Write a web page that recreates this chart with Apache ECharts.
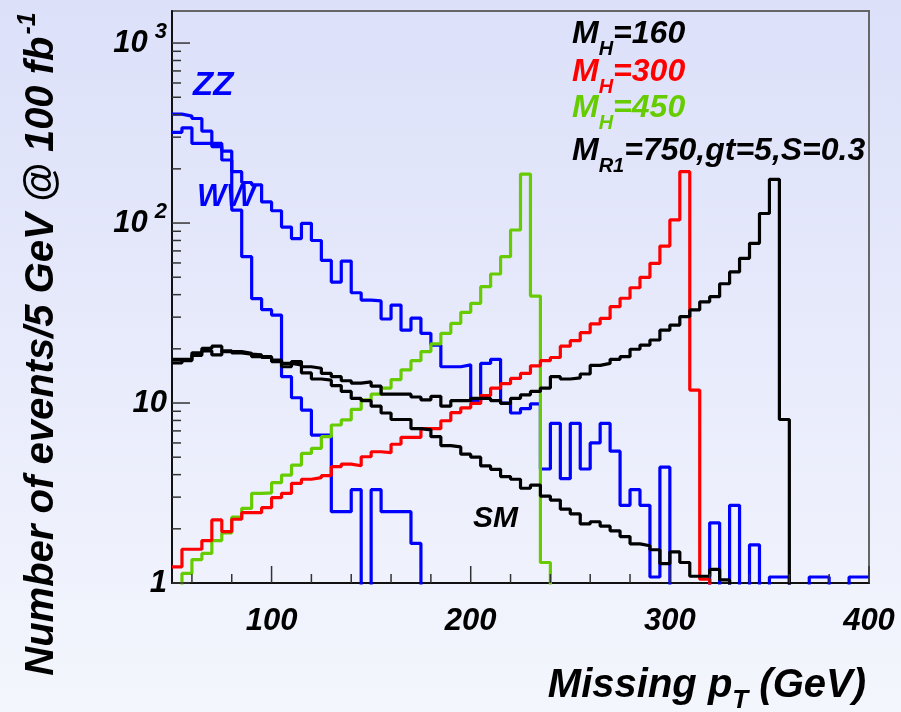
<!DOCTYPE html>
<html>
<head>
<meta charset="utf-8">
<script src="https://cdn.jsdelivr.net/npm/echarts@6/dist/echarts.min.js"></script>
<style>
  html, body { margin: 0; padding: 0; }
  #chart { width: 901px; height: 712px; }
</style>
</head>
<body>
<div id="chart"></div>
<script>
// histograms: 5 GeV bins, first bin starts at 50 GeV, 0 = empty bin
const binStart = 50;
const binWidth = 5;

const zz = [403, 393, 381, 324, 277, 251, 193, 168, 163, 131,
  117, 95, 82, 99.6, 80, 62, 47, 61.5, 41, 37.3,
  36.9, 29.3, 35, 25.4, 29.6, 24.4, 21, 15.9, 15.9, 16.3,
  10.2, 16.6, 17.5, 10, 8.8, 9.3, 9.9, 4.3, 7.7, 3.8,
  7.7, 4.3, 6.0, 7.7, 5.4, 2.7, 3.3, 2.7, 1.08, 4.4,
  0, 0, 0, 0, 2.16, 0, 2.7, 0, 1.63, 0,
  1.08, 1.08, 0, 0, 1.08, 1.08, 0, 0, 1.08, 1.08];

const ww = [319, 338, 277, 277, 266, 224, 118, 65, 38, 33,
  30.8, 14, 10.7, 9.14, 6.64, 6.64, 2.49, 2.49, 3.3, 0,
  3.3, 2.49, 2.49, 2.49, 1.66, 0, 0, 0, 0, 0,
  0, 0, 0, 0, 0, 0, 0, 0, 0, 0,
  0, 0, 0, 0, 0, 0, 0, 0, 0, 0,
  0, 0, 0, 0, 0, 0, 0, 0, 0, 0,
  0, 0, 0, 0, 0, 0, 0, 0, 0, 0];

const sm = [16.7, 17.2, 19.0, 19.5, 18.5, 19.5, 19.0, 18.7, 18.5, 17.9,
  17.3, 16.6, 16.3, 14.7, 13.6, 13.4, 12.5, 11.6, 10.6, 10.3,
  9.6, 8.8, 8.1, 8.1, 7.2, 7.1, 6.5, 5.8, 5.7, 5.2,
  5.0, 4.47, 4.28, 3.9, 3.77, 3.36, 3.5, 3.04, 2.89, 2.57,
  2.42, 2.13, 2.19, 2.07, 1.95, 1.81, 1.65, 1.61, 1.53, 1.28,
  1.49, 1.30, 1.09, 1.09, 1.19, 1.04, 0, 0, 0, 0,
  0, 0, 0, 0, 0, 0, 0, 0, 0, 0];

const mR1 = [17.5, 17.5, 18.4, 20.1, 20.7, 19.3, 19.3, 18.9, 18.1, 18.1,
  17.0, 15.9, 17.0, 15.9, 15.6, 14.6, 14.0, 13.3, 12.9, 13.1,
  12.4, 11.2, 11.2, 11.2, 10.8, 10.4, 10.9, 9.6, 10.3, 10.3,
  10.6, 10.6, 10.3, 9.95, 10.6, 11.1, 11.6, 12.1, 14.0, 13.6,
  13.8, 14.5, 16.2, 16.6, 17.5, 18.1, 19.9, 21.0, 22.4, 25.4,
  27.1, 30.2, 32.9, 36.5, 39.0, 46.0, 53.5, 63.7, 77.1, 113,
  175, 8.1, 0, 0, 0, 0, 0, 0, 0, 0];

const mH300 = [1.23, 1.54, 1.54, 1.72, 2.24, 1.93, 2.26, 2.46, 2.46, 2.62,
  2.98, 3.15, 3.58, 3.77, 3.85, 3.95, 4.43, 4.58, 4.48, 5.03,
  5.36, 5.3, 5.9, 6.45, 6.45, 7.2, 7.2, 7.97, 8.85, 9.4,
  9.95, 11.0, 12.1, 12.8, 13.7, 14.6, 16.1, 17.2, 17.9, 20.7,
  22.2, 24.6, 27.5, 29.5, 34.3, 38.2, 43.7, 49.9, 59.7, 74.5,
  104, 193, 11.8, 1.05, 0, 0, 0, 0, 0, 0,
  0, 0, 0, 0, 0, 0, 0, 0, 0, 0];

const mH450 = [0, 1.13, 1.35, 1.46, 1.72, 1.90, 2.32, 2.60, 3.15, 3.17,
  3.61, 3.98, 4.52, 5.25, 5.6, 6.5, 7.55, 8.05, 9.23, 10.4,
  11.2, 12.1, 13.5, 15.3, 17.2, 19.3, 21.3, 24.4, 27.7, 31.9,
  35.8, 44.3, 52.1, 65, 91.5, 187, 39.3, 1.30, 0, 0,
  0, 0, 0, 0, 0, 0, 0, 0, 0, 0,
  0, 0, 0, 0, 0, 0, 0, 0, 0, 0,
  0, 0, 0, 0, 0, 0, 0, 0, 0, 0];

// axis ticks
const xTicks = [60, 80, 100, 120, 140, 160, 180, 200, 220, 240, 260, 280, 300,
  320, 340, 360, 380, 400];
const yTicks = [1, 2, 3, 4, 5, 6, 7, 8, 9, 10, 20, 30, 40, 50, 60, 70, 80, 90,
  100, 200, 300, 400, 500, 600, 700, 800, 900, 1000];

const xMin = 50, xMax = 400, yMin = 1, yMax = 1507;
const font = '"Liberation Sans", Arial, sans-serif';
const emptyLevel = 0.3; // drawn below the axis, clipped away

function histPoints(values) {
  const pts = values.map((v, i) => [binStart + i * binWidth, v > 0 ? v : emptyLevel]);
  const last = pts[pts.length - 1][1];
  pts.push([binStart + values.length * binWidth, last]);
  return pts;
}

function histSeries(values, color) {
  return {
    type: 'line',
    step: 'end',
    data: histPoints(values),
    showSymbol: false,
    symbol: 'none',
    clip: true,
    silent: true,
    lineStyle: { width: 3.2, color: color },
    z: 3
  };
}

function txt(size, color, extra) {
  return Object.assign({
    fontSize: size, fontFamily: font, fontWeight: 'bold', fontStyle: 'italic',
    fill: color, color: color
  }, extra || {});
}

function isMajor(v) {
  return Math.abs(Math.log10(v) - Math.round(Math.log10(v))) < 1e-6;
}

function legendText(y, main, sub, rest, color) {
  return {
    type: 'text', x: 572, y: y, z: 10,
    style: {
      text: '{m|' + main + '}{s|' + sub + '}{m|' + rest + '}', verticalAlign: 'middle',
      rich: { m: txt(32, color), s: txt(20, color, { padding: [30, 0, 0, 0] }) }
    }
  };
}

const chart = echarts.init(document.getElementById('chart'), null, { renderer: 'canvas' });

const option = {
  animation: false,
  backgroundColor: {
    type: 'linear', x: 0, y: 0, x2: 0, y2: 1,
    colorStops: [{ offset: 0, color: '#dce0f9' }, { offset: 1, color: '#f4f6fd' }]
  },
  grid: {
    left: 172, top: 11, right: 32, bottom: 129,
    show: true, borderColor: '#666', borderWidth: 2, backgroundColor: 'transparent'
  },
  xAxis: {
    type: 'value',
    min: xMin, max: xMax, interval: 10,
    axisLine: { lineStyle: { color: '#111', width: 2 } },
    axisTick: { show: false },
    splitLine: { show: false },
    axisLabel: {
      margin: 23,
      fontSize: 31, fontFamily: font, fontWeight: 'bold', fontStyle: 'italic', color: '#000',
      formatter: v => (v % 100 === 0 ? String(v) : '')
    }
  },
  yAxis: {
    type: 'log',
    logBase: 10,
    min: yMin, max: yMax,
    axisLine: { lineStyle: { color: '#111', width: 2 } },
    axisTick: { show: false },
    splitLine: { show: false },
    axisLabel: {
      margin: 5,
      showMaxLabel: false,
      formatter: v => {
        const e = Math.round(Math.log10(v));
        if (e === 0) return '{n|1}';
        if (e === 1) return '{n|10}';
        return '{n|10}{e|' + e + '}';
      },
      rich: {
        n: txt(31, '#000'),
        e: txt(22, '#000', { padding: [0, 0, 22, 7] })
      }
    }
  },
  series: [
    histSeries(zz, '#0000ff'),
    histSeries(ww, '#0000ff'),
    histSeries(mH450, '#66cc00'),
    histSeries(mH300, '#ff0000'),
    histSeries(sm, '#000000'),
    histSeries(mR1, '#000000'),
    {
      type: 'custom',
      silent: true,
      clip: false,
      z: 5,
      data: xTicks.map(v => [v, yMin]),
      renderItem: (params, api) => {
        const v = api.value(0);
        const p = api.coord([v, yMin]);
        const len = v % 100 === 0 ? 17 : 9;
        return {
          type: 'line',
          shape: { x1: p[0], y1: p[1], x2: p[0], y2: p[1] - len },
          style: { stroke: '#333', lineWidth: 1.5 }
        };
      }
    },
    {
      type: 'custom',
      silent: true,
      clip: false,
      z: 5,
      data: yTicks.map(v => [xMin, v]),
      renderItem: (params, api) => {
        const v = api.value(1);
        const p = api.coord([xMin, v]);
        const len = isMajor(v) ? 18 : 9;
        return {
          type: 'line',
          shape: { x1: p[0], y1: p[1], x2: p[0] + len, y2: p[1] },
          style: { stroke: '#333', lineWidth: 1.5 }
        };
      }
    }
  ],
  graphic: [
    // legend block
    legendText(34, 'M', 'H', '=160', '#000'),
    legendText(72, 'M', 'H', '=300', '#ff0000'),
    legendText(108, 'M', 'H', '=450', '#66cc00'),
    legendText(151, 'M', 'R1', '=750,gt=5,S=0.3', '#000'),
    // curve labels
    { type: 'text', x: 193, y: 86, z: 10, style: Object.assign(txt(33, '#0000ff'), { text: 'ZZ', verticalAlign: 'middle' }) },
    { type: 'text', x: 197, y: 197, z: 10, style: Object.assign(txt(31, '#0000ff'), { text: 'WW', verticalAlign: 'middle' }) },
    { type: 'text', x: 473, y: 519, z: 10, style: Object.assign(txt(30, '#000'), { text: 'SM', verticalAlign: 'middle' }) },
    // axis titles
    {
      type: 'text', x: 866, y: 686, z: 10,
      style: {
        text: '{m|Missing p}{s|T}{m| (GeV)}', align: 'right', verticalAlign: 'middle',
        rich: { m: txt(40, '#000'), s: txt(26, '#000', { padding: [30, 0, 0, 0] }) }
      }
    },
    {
      type: 'text', x: 42, y: 344, z: 10, rotation: Math.PI / 2,
      style: {
        text: '{m|Number of events/5 GeV @ 100 fb}{s|-1}', align: 'center', verticalAlign: 'middle',
        rich: { m: txt(40, '#000'), s: txt(25, '#000', { padding: [0, 0, 28, 2] }) }
      }
    }
  ]
};

chart.setOption(option);
</script>
</body>
</html>
